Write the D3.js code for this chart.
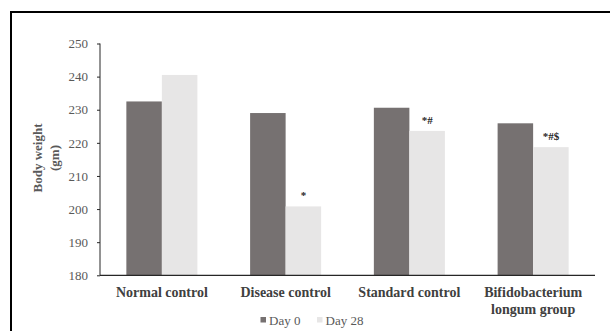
<!DOCTYPE html>
<html><head><meta charset="utf-8">
<script src="https://cdn.jsdelivr.net/npm/d3@7"></script>
<style>body{margin:0;background:#fff}svg{display:block}</style>
</head><body>
<svg id="c" width="610" height="331"></svg>
<script>
const categories = [["Normal control"],["Disease control"],["Standard control"],["Bifidobacterium","longum group"]];
const seriesNames = ["Day 0","Day 28"];
const day0 = [232.5, 229.0, 230.6, 225.9];
const day28 = [240.5, 200.8, 223.6, 218.7];
const annotations = ["", "*", "*#", "*#$"];
const yTicks = [180,190,200,210,220,230,240,250];
const colors = ["#767171","#e7e6e6"];

const svg = d3.select("#c");
const serif = "'Liberation Serif','Times New Roman',serif";
svg.append("path").attr("d","M11,331 V12 H610").attr("fill","none").attr("stroke","#000").attr("stroke-width",2);

const x0 = d3.scaleBand().domain(d3.range(4)).range([100,595]).paddingInner(0.426).paddingOuter(0.213);
const x1 = d3.scaleBand().domain([0,1]).range([0,x0.bandwidth()]);
const y = d3.scaleLinear().domain([180,250]).range([275.3,43.5]);

const series=[day0,day28];
const g = svg.append("g");
categories.forEach((c,i)=>{
  series.forEach((s,j)=>{
    g.append("rect").attr("x",x0(i)+x1(j)).attr("width",x1.bandwidth())
      .attr("y",y(s[i])).attr("height",y(180)-y(s[i])).attr("fill",colors[j]);
  });
  if(annotations[i]) g.append("text").attr("x",x0(i)+x1(1)+x1.bandwidth()/2).attr("y",y(day28[i])-7)
    .attr("text-anchor","middle").attr("font-family",serif).attr("font-weight","bold").attr("font-size",11)
    .attr("fill","#262626").text(annotations[i]);
});

const yAxis = svg.append("g").attr("transform","translate(100,0)")
  .call(d3.axisLeft(y).tickValues(yTicks).tickSize(3).tickPadding(9));
yAxis.select(".domain").attr("stroke","#262626").attr("d","M0,43.5V275.3");
yAxis.selectAll(".tick line").attr("stroke","#262626");
yAxis.selectAll("text").attr("font-family",serif).attr("font-size",13).attr("fill","#595959");

svg.append("line").attr("x1",100).attr("x2",595).attr("y1",275.3).attr("y2",275.3).attr("stroke","#262626").attr("stroke-width",1.2);

categories.forEach((c,i)=>{
  const t = svg.append("text").attr("x",x0(i)+x0.bandwidth()/2).attr("y",297)
    .attr("text-anchor","middle").attr("font-family",serif).attr("font-weight","bold")
    .attr("font-size",14).attr("fill","#404040");
  c.forEach((l,k)=>t.append("tspan").attr("x",x0(i)+x0.bandwidth()/2).attr("dy",k?17:0).text(l));
});

const yt = svg.append("text").attr("transform","translate(38,158) rotate(-90)")
  .attr("text-anchor","middle").attr("font-family",serif).attr("font-weight","bold")
  .attr("font-size",13).attr("fill","#595959");
yt.append("tspan").attr("x",0).attr("dy",4).text("Body weight");
yt.append("tspan").attr("x",0).attr("dy",17).text("(gm)");

const leg = svg.append("g");
const legX=[260.5,317];
seriesNames.forEach((n,j)=>{
  leg.append("rect").attr("x",legX[j]).attr("y",317).attr("width",5.5).attr("height",5.5).attr("fill",colors[j]);
  leg.append("text").attr("x",legX[j]+8.5).attr("y",324.5).attr("font-family",serif).attr("font-size",13)
    .attr("fill","#595959").text(n);
});
</script>
</body></html>
